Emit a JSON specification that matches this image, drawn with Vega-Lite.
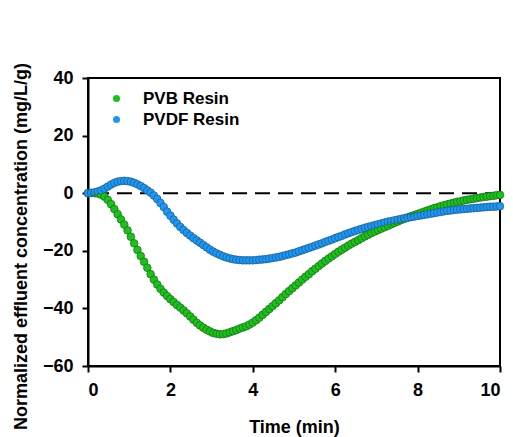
{
  "$schema": "https://vega.github.io/schema/vega-lite/v6.json",
  "width": 412,
  "height": 288,
  "autosize": {"type": "none"},
  "padding": {"left": 88, "top": 78, "right": 13, "bottom": 71},
  "background": "white",
  "config": {
    "view": {"stroke": "black", "strokeWidth": 2},
    "font": "Liberation Sans"
  },
  "datasets": {
    "curves": [
      {"t":0.00,"PVB Resin":0.0,"PVDF Resin":0.0},
      {"t":0.08,"PVB Resin":0.1,"PVDF Resin":0.1},
      {"t":0.16,"PVB Resin":0.0,"PVDF Resin":0.3},
      {"t":0.24,"PVB Resin":-0.1,"PVDF Resin":0.6},
      {"t":0.32,"PVB Resin":-0.5,"PVDF Resin":1.0},
      {"t":0.40,"PVB Resin":-1.2,"PVDF Resin":1.6},
      {"t":0.48,"PVB Resin":-2.3,"PVDF Resin":2.3},
      {"t":0.56,"PVB Resin":-3.8,"PVDF Resin":3.0},
      {"t":0.64,"PVB Resin":-5.5,"PVDF Resin":3.6},
      {"t":0.72,"PVB Resin":-7.3,"PVDF Resin":4.0},
      {"t":0.80,"PVB Resin":-9.1,"PVDF Resin":4.2},
      {"t":0.88,"PVB Resin":-10.9,"PVDF Resin":4.3},
      {"t":0.96,"PVB Resin":-12.9,"PVDF Resin":4.2},
      {"t":1.04,"PVB Resin":-15.1,"PVDF Resin":4.0},
      {"t":1.12,"PVB Resin":-17.4,"PVDF Resin":3.6},
      {"t":1.20,"PVB Resin":-19.7,"PVDF Resin":3.1},
      {"t":1.28,"PVB Resin":-21.8,"PVDF Resin":2.5},
      {"t":1.36,"PVB Resin":-23.8,"PVDF Resin":1.8},
      {"t":1.44,"PVB Resin":-25.9,"PVDF Resin":1.0},
      {"t":1.52,"PVB Resin":-28.1,"PVDF Resin":0.2},
      {"t":1.60,"PVB Resin":-30.0,"PVDF Resin":-0.8},
      {"t":1.68,"PVB Resin":-31.7,"PVDF Resin":-2.0},
      {"t":1.76,"PVB Resin":-33.2,"PVDF Resin":-3.4},
      {"t":1.84,"PVB Resin":-34.5,"PVDF Resin":-4.8},
      {"t":1.92,"PVB Resin":-35.7,"PVDF Resin":-6.4},
      {"t":2.00,"PVB Resin":-36.8,"PVDF Resin":-7.8},
      {"t":2.08,"PVB Resin":-37.8,"PVDF Resin":-9.2},
      {"t":2.16,"PVB Resin":-38.8,"PVDF Resin":-10.5},
      {"t":2.24,"PVB Resin":-39.7,"PVDF Resin":-11.7},
      {"t":2.32,"PVB Resin":-40.7,"PVDF Resin":-12.8},
      {"t":2.40,"PVB Resin":-41.7,"PVDF Resin":-13.8},
      {"t":2.48,"PVB Resin":-42.8,"PVDF Resin":-14.7},
      {"t":2.56,"PVB Resin":-43.9,"PVDF Resin":-15.6},
      {"t":2.64,"PVB Resin":-45.0,"PVDF Resin":-16.4},
      {"t":2.72,"PVB Resin":-45.9,"PVDF Resin":-17.2},
      {"t":2.80,"PVB Resin":-46.7,"PVDF Resin":-18.0},
      {"t":2.88,"PVB Resin":-47.4,"PVDF Resin":-18.8},
      {"t":2.96,"PVB Resin":-48.0,"PVDF Resin":-19.6},
      {"t":3.04,"PVB Resin":-48.5,"PVDF Resin":-20.3},
      {"t":3.12,"PVB Resin":-48.8,"PVDF Resin":-20.9},
      {"t":3.20,"PVB Resin":-49.0,"PVDF Resin":-21.4},
      {"t":3.28,"PVB Resin":-48.9,"PVDF Resin":-21.9},
      {"t":3.36,"PVB Resin":-48.7,"PVDF Resin":-22.3},
      {"t":3.44,"PVB Resin":-48.3,"PVDF Resin":-22.6},
      {"t":3.52,"PVB Resin":-47.9,"PVDF Resin":-22.9},
      {"t":3.60,"PVB Resin":-47.5,"PVDF Resin":-23.1},
      {"t":3.68,"PVB Resin":-47.0,"PVDF Resin":-23.2},
      {"t":3.76,"PVB Resin":-46.6,"PVDF Resin":-23.3},
      {"t":3.84,"PVB Resin":-46.2,"PVDF Resin":-23.3},
      {"t":3.92,"PVB Resin":-45.6,"PVDF Resin":-23.3},
      {"t":4.00,"PVB Resin":-44.9,"PVDF Resin":-23.3},
      {"t":4.08,"PVB Resin":-44.1,"PVDF Resin":-23.2},
      {"t":4.16,"PVB Resin":-43.2,"PVDF Resin":-23.1},
      {"t":4.24,"PVB Resin":-42.2,"PVDF Resin":-23.0},
      {"t":4.32,"PVB Resin":-41.2,"PVDF Resin":-22.9},
      {"t":4.40,"PVB Resin":-40.2,"PVDF Resin":-22.7},
      {"t":4.48,"PVB Resin":-39.2,"PVDF Resin":-22.5},
      {"t":4.56,"PVB Resin":-38.2,"PVDF Resin":-22.3},
      {"t":4.64,"PVB Resin":-37.2,"PVDF Resin":-22.1},
      {"t":4.72,"PVB Resin":-36.1,"PVDF Resin":-21.8},
      {"t":4.80,"PVB Resin":-35.0,"PVDF Resin":-21.5},
      {"t":4.88,"PVB Resin":-34.0,"PVDF Resin":-21.2},
      {"t":4.96,"PVB Resin":-33.0,"PVDF Resin":-20.9},
      {"t":5.04,"PVB Resin":-32.0,"PVDF Resin":-20.6},
      {"t":5.12,"PVB Resin":-31.0,"PVDF Resin":-20.2},
      {"t":5.20,"PVB Resin":-30.0,"PVDF Resin":-19.8},
      {"t":5.28,"PVB Resin":-29.0,"PVDF Resin":-19.4},
      {"t":5.36,"PVB Resin":-28.1,"PVDF Resin":-19.0},
      {"t":5.44,"PVB Resin":-27.1,"PVDF Resin":-18.6},
      {"t":5.52,"PVB Resin":-26.2,"PVDF Resin":-18.2},
      {"t":5.60,"PVB Resin":-25.3,"PVDF Resin":-17.8},
      {"t":5.68,"PVB Resin":-24.4,"PVDF Resin":-17.4},
      {"t":5.76,"PVB Resin":-23.5,"PVDF Resin":-16.9},
      {"t":5.84,"PVB Resin":-22.7,"PVDF Resin":-16.5},
      {"t":5.92,"PVB Resin":-21.9,"PVDF Resin":-16.1},
      {"t":6.00,"PVB Resin":-21.1,"PVDF Resin":-15.6},
      {"t":6.08,"PVB Resin":-20.3,"PVDF Resin":-15.2},
      {"t":6.16,"PVB Resin":-19.6,"PVDF Resin":-14.8},
      {"t":6.24,"PVB Resin":-18.9,"PVDF Resin":-14.3},
      {"t":6.32,"PVB Resin":-18.2,"PVDF Resin":-13.9},
      {"t":6.40,"PVB Resin":-17.5,"PVDF Resin":-13.5},
      {"t":6.48,"PVB Resin":-16.9,"PVDF Resin":-13.1},
      {"t":6.56,"PVB Resin":-16.3,"PVDF Resin":-12.7},
      {"t":6.64,"PVB Resin":-15.6,"PVDF Resin":-12.4},
      {"t":6.72,"PVB Resin":-15.0,"PVDF Resin":-12.0},
      {"t":6.80,"PVB Resin":-14.4,"PVDF Resin":-11.7},
      {"t":6.88,"PVB Resin":-13.8,"PVDF Resin":-11.4},
      {"t":6.96,"PVB Resin":-13.3,"PVDF Resin":-11.1},
      {"t":7.04,"PVB Resin":-12.8,"PVDF Resin":-10.8},
      {"t":7.12,"PVB Resin":-12.3,"PVDF Resin":-10.5},
      {"t":7.20,"PVB Resin":-11.8,"PVDF Resin":-10.2},
      {"t":7.28,"PVB Resin":-11.3,"PVDF Resin":-9.9},
      {"t":7.36,"PVB Resin":-10.8,"PVDF Resin":-9.7},
      {"t":7.44,"PVB Resin":-10.3,"PVDF Resin":-9.4},
      {"t":7.52,"PVB Resin":-9.8,"PVDF Resin":-9.2},
      {"t":7.60,"PVB Resin":-9.3,"PVDF Resin":-8.9},
      {"t":7.68,"PVB Resin":-8.9,"PVDF Resin":-8.7},
      {"t":7.76,"PVB Resin":-8.4,"PVDF Resin":-8.5},
      {"t":7.84,"PVB Resin":-8.0,"PVDF Resin":-8.3},
      {"t":7.92,"PVB Resin":-7.6,"PVDF Resin":-8.1},
      {"t":8.00,"PVB Resin":-7.2,"PVDF Resin":-7.9},
      {"t":8.08,"PVB Resin":-6.8,"PVDF Resin":-7.7},
      {"t":8.16,"PVB Resin":-6.4,"PVDF Resin":-7.5},
      {"t":8.24,"PVB Resin":-6.0,"PVDF Resin":-7.3},
      {"t":8.32,"PVB Resin":-5.6,"PVDF Resin":-7.1},
      {"t":8.40,"PVB Resin":-5.2,"PVDF Resin":-6.9},
      {"t":8.48,"PVB Resin":-4.9,"PVDF Resin":-6.7},
      {"t":8.56,"PVB Resin":-4.5,"PVDF Resin":-6.5},
      {"t":8.64,"PVB Resin":-4.2,"PVDF Resin":-6.3},
      {"t":8.72,"PVB Resin":-3.9,"PVDF Resin":-6.1},
      {"t":8.80,"PVB Resin":-3.6,"PVDF Resin":-6.0},
      {"t":8.88,"PVB Resin":-3.3,"PVDF Resin":-5.8},
      {"t":8.96,"PVB Resin":-3.0,"PVDF Resin":-5.7},
      {"t":9.04,"PVB Resin":-2.8,"PVDF Resin":-5.6},
      {"t":9.12,"PVB Resin":-2.5,"PVDF Resin":-5.5},
      {"t":9.20,"PVB Resin":-2.3,"PVDF Resin":-5.4},
      {"t":9.28,"PVB Resin":-2.1,"PVDF Resin":-5.3},
      {"t":9.36,"PVB Resin":-1.9,"PVDF Resin":-5.2},
      {"t":9.44,"PVB Resin":-1.7,"PVDF Resin":-5.1},
      {"t":9.52,"PVB Resin":-1.5,"PVDF Resin":-5.0},
      {"t":9.60,"PVB Resin":-1.3,"PVDF Resin":-4.9},
      {"t":9.68,"PVB Resin":-1.2,"PVDF Resin":-4.8},
      {"t":9.76,"PVB Resin":-1.0,"PVDF Resin":-4.7},
      {"t":9.84,"PVB Resin":-0.9,"PVDF Resin":-4.7},
      {"t":9.92,"PVB Resin":-0.7,"PVDF Resin":-4.6},
      {"t":10.00,"PVB Resin":-0.6,"PVDF Resin":-4.5}
    ],
    "zero": [{"y": 0}]
  },
  "layer": [
    {
      "data": {"name": "zero"},
      "mark": {"type": "rule", "color": "black", "strokeWidth": 2, "strokeDash": [15, 8]},
      "encoding": {"y": {"field": "y", "type": "quantitative"}}
    },
    {
      "data": {"name": "curves"},
      "transform": [{"fold": ["PVB Resin", "PVDF Resin"], "as": ["series", "v"]}],
      "mark": {"type": "point", "filled": true, "size": 60, "stroke": "#1a3a1a", "strokeWidth": 0.6, "opacity": 1},
      "encoding": {
        "x": {
          "field": "t", "type": "quantitative",
          "scale": {"domain": [0, 10], "nice": false},
          "axis": {
            "title": "Time (min)", "values": [0, 2, 4, 6, 8, 10],
            "grid": false, "domainColor": "black", "domainWidth": 2,
            "tickColor": "black", "tickWidth": 2, "tickSize": 6,
            "labelFont": "Liberation Sans", "labelFontWeight": "bold", "labelFontSize": 18, "labelColor": "black", "labelPadding": 9,
            "titleFont": "Liberation Sans", "titleFontWeight": "bold", "titleFontSize": 18, "titleColor": "black", "titlePadding": 19
          }
        },
        "y": {
          "field": "v", "type": "quantitative",
          "scale": {"domain": [-60, 40], "nice": false},
          "axis": {
            "title": "Normalized effluent concentration (mg/L/g)", "values": [-60, -40, -20, 0, 20, 40],
            "grid": false, "domainColor": "black", "domainWidth": 2,
            "tickColor": "black", "tickWidth": 2, "tickSize": 6,
            "labelFont": "Liberation Sans", "labelFontWeight": "bold", "labelFontSize": 18, "labelColor": "black", "labelPadding": 9,
            "titleFont": "Liberation Sans", "titleFontWeight": "bold", "titleFontSize": 18, "titleColor": "black", "titlePadding": 12,
            "titleY": 168
          }
        },
        "fill": {
          "field": "series", "type": "nominal",
          "scale": {"domain": ["PVB Resin", "PVDF Resin"], "range": ["#1fbf1f", "#2196f0"]},
          "legend": {
            "title": null, "orient": "none", "legendX": 20, "legendY": 12,
            "symbolType": "circle", "symbolSize": 50, "symbolStrokeWidth": 0,
            "labelFont": "Liberation Sans", "labelFontWeight": "bold", "labelFontSize": 17, "labelColor": "black",
            "labelOffset": 18, "rowPadding": 3
          }
        },
        "stroke": {
          "field": "series", "type": "nominal",
          "scale": {"domain": ["PVB Resin", "PVDF Resin"], "range": ["#136013", "#14507e"]},
          "legend": null
        }
      }
    }
  ]
}
